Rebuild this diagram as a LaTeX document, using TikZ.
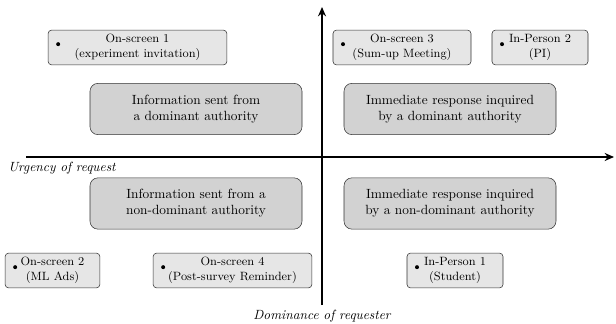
\documentclass[tikz,border=0pt]{standalone}
\usepackage{xcolor}
\usepackage{tikz}
\usetikzlibrary{arrows.meta,positioning}
\definecolor{lightbox}{HTML}{E6E6E6}
\definecolor{darkbox}{HTML}{D2D2D2}
\definecolor{boxline}{HTML}{333333}

\begin{document}
\begin{tikzpicture}[x=0.75pt, y=-0.75pt,
    every node/.style={inner sep=0pt},
    casebox/.style={draw=boxline, fill=lightbox, rounded corners=2.5pt, minimum height=26pt, align=center, font=\small,
      path picture={\fill[black] ([xshift=7.5pt, yshift=2.5pt]path picture bounding box.west) circle (1.5pt);}},
    quadbox/.style={draw=boxline, fill=darkbox, rounded corners=6pt, minimum width=159pt, minimum height=38.5pt, align=center},
    axislabel/.style={font=\itshape}]
        \useasboundingbox (0,0) rectangle (616,324);
        % axes
        \coordinate (xstart) at (26,157);
        \coordinate (xend) at (614,157);
        \coordinate (ystart) at (322,305);
        \coordinate (yend) at (322,7);
        \draw[line width=1.2pt, -{Stealth[length=7pt, width=6pt]}] (xstart) -- (xend);
        \draw[line width=1.2pt, -{Stealth[length=7pt, width=6pt]}] (ystart) -- (yend);
        \node[axislabel, anchor=west] (urgency) at (8,168) {Urgency of request};
        \node[axislabel] (dominance) at (322,316) {Dominance of requester};
        % quadrants
        \node[quadbox] (domInfo) at (196,109) {Information sent from\\a dominant authority};
        \node[quadbox] (domResp) at (450,109) {Immediate response inquired\\by a dominant authority};
        \node[quadbox] (nondomInfo) at (196,203.5) {Information sent from a\\non-dominant authority};
        \node[quadbox] (nondomResp) at (450,203.5) {Immediate response inquired\\by a non-dominant authority};
        % cases
        \node[casebox, minimum width=134pt] (screen1) at (137.5,47.5) {On-screen 1\\(experiment invitation)};
        \node[casebox, minimum width=103.5pt] (screen3) at (402,47.5) {On-screen 3\\(Sum-up Meeting)};
        \node[casebox, minimum width=72pt] (person2) at (540,47.5) {In-Person 2\\(PI)};
        \node[casebox, minimum width=71pt] (screen2) at (52.5,270.5) {On-screen 2\\(ML Ads)};
        \node[casebox, minimum width=119pt] (screen4) at (232.5,270.5) {On-screen 4\\(Post-survey Reminder)};
        \node[casebox, minimum width=72pt] (person1) at (455,270.5) {In-Person 1\\(Student)};
      \end{tikzpicture}
\end{document}
